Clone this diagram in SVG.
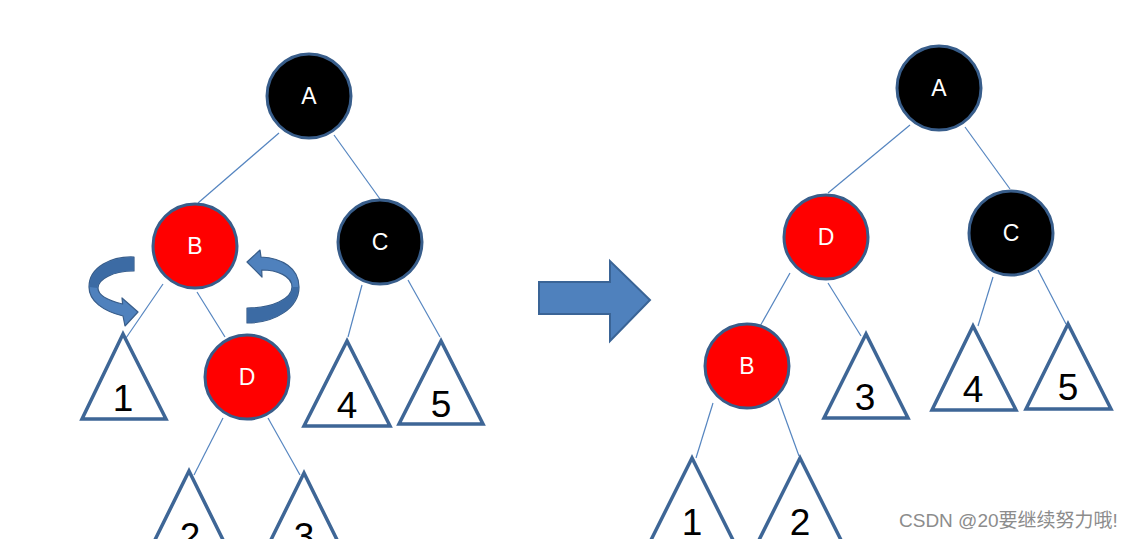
<svg xmlns="http://www.w3.org/2000/svg" width="1135" height="539" viewBox="0 0 1135 539">
  <style>
    .edge { stroke: #5585C0; stroke-width: 1.2; fill: none; }
    .red { fill: #FF0000; stroke: #385D8A; stroke-width: 3; }
    .black { fill: #000000; stroke: #385D8A; stroke-width: 3; }
    .lbl { font-family: "Liberation Sans", Arial, sans-serif; font-size: 23px; fill: #FFFFFF; text-anchor: middle; }
    .tri { fill: #FFFFFF; stroke: #3E6696; stroke-width: 3.5; stroke-linejoin: miter; }
    .num { font-family: "Liberation Sans", Arial, sans-serif; font-size: 37px; fill: #000000; text-anchor: middle; }
    .arrow { fill: #4F81BD; stroke: #385D8A; stroke-width: 1.2; stroke-linejoin: round; }
    .shade { fill: #3C6BA4; stroke: none; }
    .wm { font-family: "Liberation Sans", "Noto Sans CJK SC", sans-serif; font-size: 19px; fill: #8C8C8C; }
  </style>
  <rect width="1135" height="539" fill="#FFFFFF"/>

  <g id="connectors">
    <!-- left tree -->
    <line class="edge" x1="279" y1="133" x2="198" y2="203"/>
    <line class="edge" x1="334" y1="135" x2="380" y2="199"/>
    <line class="edge" x1="163" y1="284" x2="126" y2="338"/>
    <line class="edge" x1="197" y1="292" x2="225" y2="337"/>
    <line class="edge" x1="362" y1="285" x2="348" y2="337"/>
    <line class="edge" x1="408" y1="280" x2="440" y2="337"/>
    <line class="edge" x1="223" y1="418" x2="194" y2="475"/>
    <line class="edge" x1="268" y1="418" x2="300" y2="475"/>
    <!-- right tree -->
    <line class="edge" x1="910" y1="125" x2="828" y2="193"/>
    <line class="edge" x1="965" y1="127" x2="1010" y2="189"/>
    <line class="edge" x1="790" y1="273" x2="759" y2="328"/>
    <line class="edge" x1="828" y1="283" x2="861" y2="336"/>
    <line class="edge" x1="993" y1="277" x2="978" y2="326"/>
    <line class="edge" x1="1038" y1="270" x2="1066" y2="324"/>
    <line class="edge" x1="713" y1="403" x2="696" y2="458"/>
    <line class="edge" x1="778" y1="398" x2="799" y2="456"/>
  </g>

  <!-- Left tree nodes -->
  <g id="L-A"><circle class="black" cx="309" cy="96" r="42"/><text class="lbl" x="309" y="104">A</text></g>
  <g id="L-B"><circle class="red" cx="195" cy="246" r="42"/><text class="lbl" x="195" y="254">B</text></g>
  <g id="L-C"><circle class="black" cx="380" cy="242" r="42"/><text class="lbl" x="380" y="250">C</text></g>
  <g id="L-D"><circle class="red" cx="247" cy="377" r="42"/><text class="lbl" x="247" y="385">D</text></g>
  <g id="L-1"><polygon class="tri" points="123,334 82,419 166,419"/><text class="num" x="123" y="411">1</text></g>
  <g id="L-4"><polygon class="tri" points="347,341 304,426 390,426"/><text class="num" x="347" y="418">4</text></g>
  <g id="L-5"><polygon class="tri" points="441,341 399,424 483,424"/><text class="num" x="441" y="417">5</text></g>
  <g id="L-2"><polygon class="tri" points="189,471 147,556 231,556"/><text class="num" x="190" y="549">2</text></g>
  <g id="L-3"><polygon class="tri" points="304,473 262,558 346,558"/><text class="num" x="304" y="549">3</text></g>

  <!-- Right tree nodes -->
  <g id="R-A"><circle class="black" cx="939" cy="88" r="42"/><text class="lbl" x="939" y="96">A</text></g>
  <g id="R-D"><circle class="red" cx="826" cy="237" r="42"/><text class="lbl" x="826" y="245">D</text></g>
  <g id="R-C"><circle class="black" cx="1011" cy="233" r="42"/><text class="lbl" x="1011" y="241">C</text></g>
  <g id="R-B"><circle class="red" cx="747" cy="366" r="42"/><text class="lbl" x="747" y="374">B</text></g>
  <g id="R-3"><polygon class="tri" points="866,334 824,418 908,418"/><text class="num" x="865" y="410">3</text></g>
  <g id="R-4"><polygon class="tri" points="973,326 932,410 1016,410"/><text class="num" x="973" y="402">4</text></g>
  <g id="R-5"><polygon class="tri" points="1068,324 1026,409 1111,409"/><text class="num" x="1068" y="400">5</text></g>
  <g id="R-1"><polygon class="tri" points="692,458 649,544 735,544"/><text class="num" x="692" y="535">1</text></g>
  <g id="R-2"><polygon class="tri" points="800,458 757,544 843,544"/><text class="num" x="800" y="535">2</text></g>

  <!-- rotation arrows -->
  <g id="rotate-left">
    <path class="arrow" d="M134,257 C112,256 89,267 89,287 C89,301 103,311 123,316 L125,326 L138,312 L122,298 L122.6,304 C110,301 98,296 98,288 C98,279 113,271 134,271 Z"/>
    <path class="shade" d="M133.4,257.6 C112,257 89.6,267 89.6,287 L97.4,288 C97.4,279 113,270.4 133.4,270.4 Z"/>
  </g>
  <g id="rotate-right">
    <path class="arrow" d="M247,308 L247,323 C275,323 299,308 299,287 C299,268 282,258 261,257 L260,250 L247,262 L262,277 L261.7,270 C277,270 292,276 292,287 C292,299 272,308 247,308 Z"/>
    <path class="shade" d="M247.6,308.6 L247.6,322.4 C275,322.4 298.4,308 298.4,287 L292.6,287 C292.6,299 272,308.6 247.6,308.6 Z"/>
  </g>

  <!-- big arrow -->
  <g id="big-arrow">
    <path d="M539,282 L610,282 L610,261 L650,300 L610,341 L610,314 L539,314 Z" fill="#4F81BD" stroke="#3A6496" stroke-width="2" stroke-linejoin="miter"/>
  </g>

  <text class="wm" x="899" y="527">CSDN @20要继续努力哦!</text>
</svg>
